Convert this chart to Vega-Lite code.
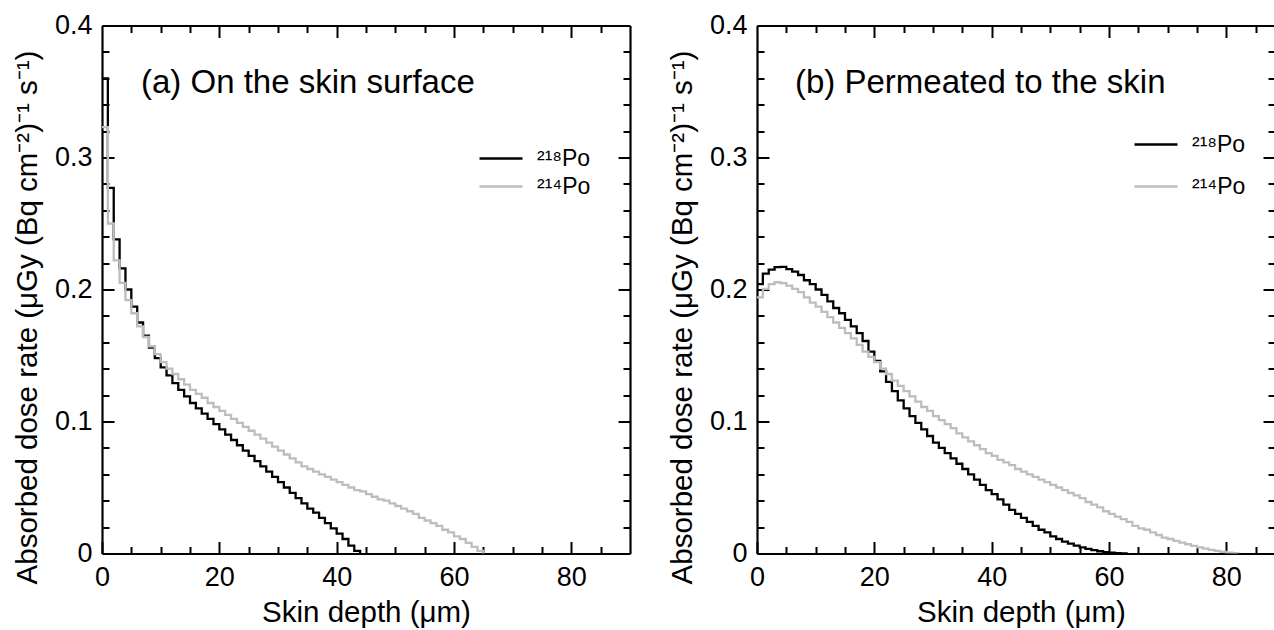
{
"$schema": "https://vega.github.io/schema/vega-lite/v6.json",
"padding": {"left": 12, "top": 11.5, "right": 0, "bottom": 0},
"spacing": 36,
"config": {
  "font": "Liberation Sans",
  "view": {"stroke": null},
  "axis": {"grid": false, "domainColor": "#000", "tickColor": "#000", "domainWidth": 2.2, "tickWidth": 2, "labelColor": "#000", "titleColor": "#000", "labelFontSize": 27, "titleFontSize": 29.5, "titleFontWeight": "normal", "labelFlush": false, "labelOverlap": false},
  "legend": {"orient": "none", "title": null, "symbolType": "stroke", "symbolSize": 1849, "symbolStrokeWidth": 2.5, "labelFontSize": 23, "labelColor": "#000", "labelOffset": 13, "padding": 0}
},
"datasets": {
 "surface": [
  {"depth":0,"rate":0.360,"nuclide":"²¹⁸Po"},{"depth":1,"rate":0.277,"nuclide":"²¹⁸Po"},{"depth":2,"rate":0.238,"nuclide":"²¹⁸Po"},{"depth":3,"rate":0.216,"nuclide":"²¹⁸Po"},{"depth":4,"rate":0.200,"nuclide":"²¹⁸Po"},{"depth":5,"rate":0.187,"nuclide":"²¹⁸Po"},{"depth":6,"rate":0.175,"nuclide":"²¹⁸Po"},{"depth":7,"rate":0.165,"nuclide":"²¹⁸Po"},{"depth":8,"rate":0.156,"nuclide":"²¹⁸Po"},{"depth":9,"rate":0.148,"nuclide":"²¹⁸Po"},{"depth":10,"rate":0.141,"nuclide":"²¹⁸Po"},{"depth":11,"rate":0.135,"nuclide":"²¹⁸Po"},{"depth":12,"rate":0.129,"nuclide":"²¹⁸Po"},{"depth":13,"rate":0.124,"nuclide":"²¹⁸Po"},{"depth":14,"rate":0.119,"nuclide":"²¹⁸Po"},{"depth":15,"rate":0.114,"nuclide":"²¹⁸Po"},{"depth":16,"rate":0.110,"nuclide":"²¹⁸Po"},{"depth":17,"rate":0.106,"nuclide":"²¹⁸Po"},{"depth":18,"rate":0.102,"nuclide":"²¹⁸Po"},{"depth":19,"rate":0.098,"nuclide":"²¹⁸Po"},{"depth":20,"rate":0.094,"nuclide":"²¹⁸Po"},{"depth":21,"rate":0.090,"nuclide":"²¹⁸Po"},{"depth":22,"rate":0.086,"nuclide":"²¹⁸Po"},{"depth":23,"rate":0.082,"nuclide":"²¹⁸Po"},{"depth":24,"rate":0.078,"nuclide":"²¹⁸Po"},{"depth":25,"rate":0.074,"nuclide":"²¹⁸Po"},{"depth":26,"rate":0.070,"nuclide":"²¹⁸Po"},{"depth":27,"rate":0.066,"nuclide":"²¹⁸Po"},{"depth":28,"rate":0.062,"nuclide":"²¹⁸Po"},{"depth":29,"rate":0.058,"nuclide":"²¹⁸Po"},{"depth":30,"rate":0.054,"nuclide":"²¹⁸Po"},{"depth":31,"rate":0.050,"nuclide":"²¹⁸Po"},{"depth":32,"rate":0.046,"nuclide":"²¹⁸Po"},{"depth":33,"rate":0.042,"nuclide":"²¹⁸Po"},{"depth":34,"rate":0.038,"nuclide":"²¹⁸Po"},{"depth":35,"rate":0.034,"nuclide":"²¹⁸Po"},{"depth":36,"rate":0.031,"nuclide":"²¹⁸Po"},{"depth":37,"rate":0.027,"nuclide":"²¹⁸Po"},{"depth":38,"rate":0.023,"nuclide":"²¹⁸Po"},{"depth":39,"rate":0.019,"nuclide":"²¹⁸Po"},{"depth":40,"rate":0.015,"nuclide":"²¹⁸Po"},{"depth":41,"rate":0.011,"nuclide":"²¹⁸Po"},{"depth":42,"rate":0.006,"nuclide":"²¹⁸Po"},{"depth":43,"rate":0.002,"nuclide":"²¹⁸Po"},{"depth":44,"rate":0.0,"nuclide":"²¹⁸Po"},
  {"depth":0,"rate":0.323,"nuclide":"²¹⁴Po"},{"depth":1,"rate":0.250,"nuclide":"²¹⁴Po"},{"depth":2,"rate":0.222,"nuclide":"²¹⁴Po"},{"depth":3,"rate":0.205,"nuclide":"²¹⁴Po"},{"depth":4,"rate":0.192,"nuclide":"²¹⁴Po"},{"depth":5,"rate":0.182,"nuclide":"²¹⁴Po"},{"depth":6,"rate":0.172,"nuclide":"²¹⁴Po"},{"depth":7,"rate":0.164,"nuclide":"²¹⁴Po"},{"depth":8,"rate":0.157,"nuclide":"²¹⁴Po"},{"depth":9,"rate":0.151,"nuclide":"²¹⁴Po"},{"depth":10,"rate":0.145,"nuclide":"²¹⁴Po"},{"depth":11,"rate":0.140,"nuclide":"²¹⁴Po"},{"depth":12,"rate":0.136,"nuclide":"²¹⁴Po"},{"depth":13,"rate":0.132,"nuclide":"²¹⁴Po"},{"depth":14,"rate":0.128,"nuclide":"²¹⁴Po"},{"depth":15,"rate":0.124,"nuclide":"²¹⁴Po"},{"depth":16,"rate":0.121,"nuclide":"²¹⁴Po"},{"depth":17,"rate":0.118,"nuclide":"²¹⁴Po"},{"depth":18,"rate":0.114,"nuclide":"²¹⁴Po"},{"depth":19,"rate":0.111,"nuclide":"²¹⁴Po"},{"depth":20,"rate":0.108,"nuclide":"²¹⁴Po"},{"depth":21,"rate":0.105,"nuclide":"²¹⁴Po"},{"depth":22,"rate":0.102,"nuclide":"²¹⁴Po"},{"depth":23,"rate":0.099,"nuclide":"²¹⁴Po"},{"depth":24,"rate":0.096,"nuclide":"²¹⁴Po"},{"depth":25,"rate":0.093,"nuclide":"²¹⁴Po"},{"depth":26,"rate":0.090,"nuclide":"²¹⁴Po"},{"depth":27,"rate":0.087,"nuclide":"²¹⁴Po"},{"depth":28,"rate":0.084,"nuclide":"²¹⁴Po"},{"depth":29,"rate":0.081,"nuclide":"²¹⁴Po"},{"depth":30,"rate":0.078,"nuclide":"²¹⁴Po"},{"depth":31,"rate":0.075,"nuclide":"²¹⁴Po"},{"depth":32,"rate":0.072,"nuclide":"²¹⁴Po"},{"depth":33,"rate":0.069,"nuclide":"²¹⁴Po"},{"depth":34,"rate":0.066,"nuclide":"²¹⁴Po"},{"depth":35,"rate":0.064,"nuclide":"²¹⁴Po"},{"depth":36,"rate":0.062,"nuclide":"²¹⁴Po"},{"depth":37,"rate":0.060,"nuclide":"²¹⁴Po"},{"depth":38,"rate":0.058,"nuclide":"²¹⁴Po"},{"depth":39,"rate":0.056,"nuclide":"²¹⁴Po"},{"depth":40,"rate":0.054,"nuclide":"²¹⁴Po"},{"depth":41,"rate":0.052,"nuclide":"²¹⁴Po"},{"depth":42,"rate":0.050,"nuclide":"²¹⁴Po"},{"depth":43,"rate":0.048,"nuclide":"²¹⁴Po"},{"depth":44,"rate":0.047,"nuclide":"²¹⁴Po"},{"depth":45,"rate":0.045,"nuclide":"²¹⁴Po"},{"depth":46,"rate":0.043,"nuclide":"²¹⁴Po"},{"depth":47,"rate":0.041,"nuclide":"²¹⁴Po"},{"depth":48,"rate":0.040,"nuclide":"²¹⁴Po"},{"depth":49,"rate":0.038,"nuclide":"²¹⁴Po"},{"depth":50,"rate":0.036,"nuclide":"²¹⁴Po"},{"depth":51,"rate":0.034,"nuclide":"²¹⁴Po"},{"depth":52,"rate":0.032,"nuclide":"²¹⁴Po"},{"depth":53,"rate":0.030,"nuclide":"²¹⁴Po"},{"depth":54,"rate":0.027,"nuclide":"²¹⁴Po"},{"depth":55,"rate":0.025,"nuclide":"²¹⁴Po"},{"depth":56,"rate":0.023,"nuclide":"²¹⁴Po"},{"depth":57,"rate":0.021,"nuclide":"²¹⁴Po"},{"depth":58,"rate":0.018,"nuclide":"²¹⁴Po"},{"depth":59,"rate":0.016,"nuclide":"²¹⁴Po"},{"depth":60,"rate":0.013,"nuclide":"²¹⁴Po"},{"depth":61,"rate":0.011,"nuclide":"²¹⁴Po"},{"depth":62,"rate":0.008,"nuclide":"²¹⁴Po"},{"depth":63,"rate":0.005,"nuclide":"²¹⁴Po"},{"depth":64,"rate":0.002,"nuclide":"²¹⁴Po"},{"depth":65,"rate":0.0,"nuclide":"²¹⁴Po"}
 ],
 "permeated": [
  {"depth":0,"rate":0.204,"nuclide":"²¹⁸Po"},{"depth":1,"rate":0.212,"nuclide":"²¹⁸Po"},{"depth":2,"rate":0.215,"nuclide":"²¹⁸Po"},{"depth":3,"rate":0.217,"nuclide":"²¹⁸Po"},{"depth":4,"rate":0.2172,"nuclide":"²¹⁸Po"},{"depth":5,"rate":0.2155,"nuclide":"²¹⁸Po"},{"depth":6,"rate":0.2135,"nuclide":"²¹⁸Po"},{"depth":7,"rate":0.211,"nuclide":"²¹⁸Po"},{"depth":8,"rate":0.207,"nuclide":"²¹⁸Po"},{"depth":9,"rate":0.204,"nuclide":"²¹⁸Po"},{"depth":10,"rate":0.200,"nuclide":"²¹⁸Po"},{"depth":11,"rate":0.196,"nuclide":"²¹⁸Po"},{"depth":12,"rate":0.191,"nuclide":"²¹⁸Po"},{"depth":13,"rate":0.186,"nuclide":"²¹⁸Po"},{"depth":14,"rate":0.182,"nuclide":"²¹⁸Po"},{"depth":15,"rate":0.177,"nuclide":"²¹⁸Po"},{"depth":16,"rate":0.172,"nuclide":"²¹⁸Po"},{"depth":17,"rate":0.167,"nuclide":"²¹⁸Po"},{"depth":18,"rate":0.161,"nuclide":"²¹⁸Po"},{"depth":19,"rate":0.153,"nuclide":"²¹⁸Po"},{"depth":20,"rate":0.146,"nuclide":"²¹⁸Po"},{"depth":21,"rate":0.138,"nuclide":"²¹⁸Po"},{"depth":22,"rate":0.130,"nuclide":"²¹⁸Po"},{"depth":23,"rate":0.123,"nuclide":"²¹⁸Po"},{"depth":24,"rate":0.116,"nuclide":"²¹⁸Po"},{"depth":25,"rate":0.110,"nuclide":"²¹⁸Po"},{"depth":26,"rate":0.104,"nuclide":"²¹⁸Po"},{"depth":27,"rate":0.099,"nuclide":"²¹⁸Po"},{"depth":28,"rate":0.094,"nuclide":"²¹⁸Po"},{"depth":29,"rate":0.089,"nuclide":"²¹⁸Po"},{"depth":30,"rate":0.084,"nuclide":"²¹⁸Po"},{"depth":31,"rate":0.080,"nuclide":"²¹⁸Po"},{"depth":32,"rate":0.076,"nuclide":"²¹⁸Po"},{"depth":33,"rate":0.072,"nuclide":"²¹⁸Po"},{"depth":34,"rate":0.068,"nuclide":"²¹⁸Po"},{"depth":35,"rate":0.064,"nuclide":"²¹⁸Po"},{"depth":36,"rate":0.060,"nuclide":"²¹⁸Po"},{"depth":37,"rate":0.056,"nuclide":"²¹⁸Po"},{"depth":38,"rate":0.052,"nuclide":"²¹⁸Po"},{"depth":39,"rate":0.048,"nuclide":"²¹⁸Po"},{"depth":40,"rate":0.045,"nuclide":"²¹⁸Po"},{"depth":41,"rate":0.041,"nuclide":"²¹⁸Po"},{"depth":42,"rate":0.037,"nuclide":"²¹⁸Po"},{"depth":43,"rate":0.033,"nuclide":"²¹⁸Po"},{"depth":44,"rate":0.030,"nuclide":"²¹⁸Po"},{"depth":45,"rate":0.027,"nuclide":"²¹⁸Po"},{"depth":46,"rate":0.024,"nuclide":"²¹⁸Po"},{"depth":47,"rate":0.021,"nuclide":"²¹⁸Po"},{"depth":48,"rate":0.018,"nuclide":"²¹⁸Po"},{"depth":49,"rate":0.016,"nuclide":"²¹⁸Po"},{"depth":50,"rate":0.013,"nuclide":"²¹⁸Po"},{"depth":51,"rate":0.011,"nuclide":"²¹⁸Po"},{"depth":52,"rate":0.009,"nuclide":"²¹⁸Po"},{"depth":53,"rate":0.0075,"nuclide":"²¹⁸Po"},{"depth":54,"rate":0.006,"nuclide":"²¹⁸Po"},{"depth":55,"rate":0.0047,"nuclide":"²¹⁸Po"},{"depth":56,"rate":0.0035,"nuclide":"²¹⁸Po"},{"depth":57,"rate":0.0025,"nuclide":"²¹⁸Po"},{"depth":58,"rate":0.0017,"nuclide":"²¹⁸Po"},{"depth":59,"rate":0.001,"nuclide":"²¹⁸Po"},{"depth":60,"rate":0.0006,"nuclide":"²¹⁸Po"},{"depth":61,"rate":0.0003,"nuclide":"²¹⁸Po"},{"depth":62,"rate":0.0001,"nuclide":"²¹⁸Po"},{"depth":63,"rate":0.0,"nuclide":"²¹⁸Po"},
  {"depth":0,"rate":0.194,"nuclide":"²¹⁴Po"},{"depth":1,"rate":0.2005,"nuclide":"²¹⁴Po"},{"depth":2,"rate":0.204,"nuclide":"²¹⁴Po"},{"depth":3,"rate":0.2055,"nuclide":"²¹⁴Po"},{"depth":4,"rate":0.2048,"nuclide":"²¹⁴Po"},{"depth":5,"rate":0.203,"nuclide":"²¹⁴Po"},{"depth":6,"rate":0.2005,"nuclide":"²¹⁴Po"},{"depth":7,"rate":0.198,"nuclide":"²¹⁴Po"},{"depth":8,"rate":0.194,"nuclide":"²¹⁴Po"},{"depth":9,"rate":0.190,"nuclide":"²¹⁴Po"},{"depth":10,"rate":0.187,"nuclide":"²¹⁴Po"},{"depth":11,"rate":0.183,"nuclide":"²¹⁴Po"},{"depth":12,"rate":0.179,"nuclide":"²¹⁴Po"},{"depth":13,"rate":0.175,"nuclide":"²¹⁴Po"},{"depth":14,"rate":0.171,"nuclide":"²¹⁴Po"},{"depth":15,"rate":0.167,"nuclide":"²¹⁴Po"},{"depth":16,"rate":0.163,"nuclide":"²¹⁴Po"},{"depth":17,"rate":0.158,"nuclide":"²¹⁴Po"},{"depth":18,"rate":0.153,"nuclide":"²¹⁴Po"},{"depth":19,"rate":0.149,"nuclide":"²¹⁴Po"},{"depth":20,"rate":0.145,"nuclide":"²¹⁴Po"},{"depth":21,"rate":0.140,"nuclide":"²¹⁴Po"},{"depth":22,"rate":0.136,"nuclide":"²¹⁴Po"},{"depth":23,"rate":0.131,"nuclide":"²¹⁴Po"},{"depth":24,"rate":0.127,"nuclide":"²¹⁴Po"},{"depth":25,"rate":0.123,"nuclide":"²¹⁴Po"},{"depth":26,"rate":0.119,"nuclide":"²¹⁴Po"},{"depth":27,"rate":0.115,"nuclide":"²¹⁴Po"},{"depth":28,"rate":0.111,"nuclide":"²¹⁴Po"},{"depth":29,"rate":0.108,"nuclide":"²¹⁴Po"},{"depth":30,"rate":0.104,"nuclide":"²¹⁴Po"},{"depth":31,"rate":0.101,"nuclide":"²¹⁴Po"},{"depth":32,"rate":0.098,"nuclide":"²¹⁴Po"},{"depth":33,"rate":0.095,"nuclide":"²¹⁴Po"},{"depth":34,"rate":0.091,"nuclide":"²¹⁴Po"},{"depth":35,"rate":0.088,"nuclide":"²¹⁴Po"},{"depth":36,"rate":0.085,"nuclide":"²¹⁴Po"},{"depth":37,"rate":0.082,"nuclide":"²¹⁴Po"},{"depth":38,"rate":0.079,"nuclide":"²¹⁴Po"},{"depth":39,"rate":0.076,"nuclide":"²¹⁴Po"},{"depth":40,"rate":0.074,"nuclide":"²¹⁴Po"},{"depth":41,"rate":0.071,"nuclide":"²¹⁴Po"},{"depth":42,"rate":0.069,"nuclide":"²¹⁴Po"},{"depth":43,"rate":0.067,"nuclide":"²¹⁴Po"},{"depth":44,"rate":0.064,"nuclide":"²¹⁴Po"},{"depth":45,"rate":0.062,"nuclide":"²¹⁴Po"},{"depth":46,"rate":0.060,"nuclide":"²¹⁴Po"},{"depth":47,"rate":0.058,"nuclide":"²¹⁴Po"},{"depth":48,"rate":0.056,"nuclide":"²¹⁴Po"},{"depth":49,"rate":0.054,"nuclide":"²¹⁴Po"},{"depth":50,"rate":0.052,"nuclide":"²¹⁴Po"},{"depth":51,"rate":0.050,"nuclide":"²¹⁴Po"},{"depth":52,"rate":0.048,"nuclide":"²¹⁴Po"},{"depth":53,"rate":0.046,"nuclide":"²¹⁴Po"},{"depth":54,"rate":0.044,"nuclide":"²¹⁴Po"},{"depth":55,"rate":0.042,"nuclide":"²¹⁴Po"},{"depth":56,"rate":0.039,"nuclide":"²¹⁴Po"},{"depth":57,"rate":0.037,"nuclide":"²¹⁴Po"},{"depth":58,"rate":0.035,"nuclide":"²¹⁴Po"},{"depth":59,"rate":0.032,"nuclide":"²¹⁴Po"},{"depth":60,"rate":0.030,"nuclide":"²¹⁴Po"},{"depth":61,"rate":0.028,"nuclide":"²¹⁴Po"},{"depth":62,"rate":0.026,"nuclide":"²¹⁴Po"},{"depth":63,"rate":0.024,"nuclide":"²¹⁴Po"},{"depth":64,"rate":0.021,"nuclide":"²¹⁴Po"},{"depth":65,"rate":0.019,"nuclide":"²¹⁴Po"},{"depth":66,"rate":0.018,"nuclide":"²¹⁴Po"},{"depth":67,"rate":0.016,"nuclide":"²¹⁴Po"},{"depth":68,"rate":0.014,"nuclide":"²¹⁴Po"},{"depth":69,"rate":0.012,"nuclide":"²¹⁴Po"},{"depth":70,"rate":0.011,"nuclide":"²¹⁴Po"},{"depth":71,"rate":0.0095,"nuclide":"²¹⁴Po"},{"depth":72,"rate":0.0082,"nuclide":"²¹⁴Po"},{"depth":73,"rate":0.007,"nuclide":"²¹⁴Po"},{"depth":74,"rate":0.0058,"nuclide":"²¹⁴Po"},{"depth":75,"rate":0.0047,"nuclide":"²¹⁴Po"},{"depth":76,"rate":0.0037,"nuclide":"²¹⁴Po"},{"depth":77,"rate":0.0028,"nuclide":"²¹⁴Po"},{"depth":78,"rate":0.002,"nuclide":"²¹⁴Po"},{"depth":79,"rate":0.0013,"nuclide":"²¹⁴Po"},{"depth":80,"rate":0.0007,"nuclide":"²¹⁴Po"},{"depth":81,"rate":0.0002,"nuclide":"²¹⁴Po"},{"depth":82,"rate":0.0,"nuclide":"²¹⁴Po"}
 ]
},
"hconcat": [
 {
  "width": 528, "height": 528,
  "data": {"name": "surface"},
  "title": {"text": "(a) On the skin surface", "frame": "group", "anchor": "start", "orient": "top", "offset": -104, "dx": 39, "fontSize": 33, "fontWeight": "normal", "baseline": "middle", "color": "#000"},
  "layer": [
   {"mark": {"type": "line", "interpolate": "step-after", "strokeWidth": 2.3},
    "encoding": {
     "x": {"field": "depth", "type": "quantitative", "scale": {"domain": [0, 90], "nice": false}, "axis": {"orient": "bottom", "values": [0, 20, 40, 60, 80], "tickSize": -12, "labelPadding": 23, "title": "Skin depth (μm)", "titlePadding": 8}},
     "y": {"field": "rate", "type": "quantitative", "scale": {"domain": [0, 0.4], "nice": false}, "axis": {"orient": "left", "values": [0, 0.1, 0.2, 0.3, 0.4], "tickSize": -12, "labelPadding": 22, "labelExpr": "datum.value == 0 ? '0' : format(datum.value, '.1f')", "title": "Absorbed dose rate (μGy (Bq cm⁻²)⁻¹ s⁻¹)", "titlePadding": 12, "titleY": 291.5}},
     "color": {"field": "nuclide", "type": "nominal", "scale": {"domain": ["²¹⁸Po", "²¹⁴Po"], "range": ["#000000", "#bdbdbd"]}, "legend": {"legendX": 376, "legendY": 119, "clipHeight": 28, "rowPadding": 0}}
    }},
   {"mark": {"type": "line", "opacity": 0},
    "encoding": {
     "x": {"field": "depth", "type": "quantitative", "axis": {"orient": "bottom", "values": [5,10,15,25,30,35,45,50,55,65,70,75,85], "tickSize": -7, "labels": false, "domain": false, "title": null}},
     "y": {"field": "rate", "type": "quantitative", "axis": {"orient": "left", "values": [0.02,0.04,0.06,0.08,0.12,0.14,0.16,0.18,0.22,0.24,0.26,0.28,0.32,0.34,0.36,0.38], "tickSize": -7, "labels": false, "domain": false, "title": null}}
    }},
   {"mark": {"type": "line", "opacity": 0},
    "encoding": {
     "x": {"field": "depth", "type": "quantitative", "axis": {"orient": "top", "values": [20, 40, 60, 80], "tickSize": -12, "labels": false, "title": null}},
     "y": {"field": "rate", "type": "quantitative", "axis": {"orient": "right", "values": [0.1, 0.2, 0.3], "tickSize": -12, "labels": false, "title": null}}
    }},
   {"mark": {"type": "line", "opacity": 0},
    "encoding": {
     "x": {"field": "depth", "type": "quantitative", "axis": {"orient": "top", "values": [5,10,15,25,30,35,45,50,55,65,70,75,85], "tickSize": -7, "labels": false, "domain": false, "title": null}},
     "y": {"field": "rate", "type": "quantitative", "axis": {"orient": "right", "values": [0.02,0.04,0.06,0.08,0.12,0.14,0.16,0.18,0.22,0.24,0.26,0.28,0.32,0.34,0.36,0.38], "tickSize": -7, "labels": false, "domain": false, "title": null}}
    }}
  ],
  "resolve": {"axis": {"x": "independent", "y": "independent"}}
 },
 {
  "width": 518, "height": 528,
  "data": {"name": "permeated"},
  "title": {"text": "(b) Permeated to the skin", "frame": "group", "anchor": "start", "orient": "top", "offset": -104, "dx": 38, "fontSize": 33, "fontWeight": "normal", "baseline": "middle", "color": "#000"},
  "layer": [
   {"mark": {"type": "line", "interpolate": "step-after", "strokeWidth": 2.3, "clip": true},
    "encoding": {
     "x": {"field": "depth", "type": "quantitative", "scale": {"domain": [0, 88.3], "nice": false}, "axis": {"orient": "bottom", "values": [0, 20, 40, 60, 80], "tickSize": -12, "labelPadding": 23, "title": "Skin depth (μm)", "titlePadding": 8, "titleX": 264}},
     "y": {"field": "rate", "type": "quantitative", "scale": {"domain": [0, 0.4], "nice": false}, "axis": {"orient": "left", "values": [0, 0.1, 0.2, 0.3, 0.4], "tickSize": -12, "labelPadding": 22, "labelExpr": "datum.value == 0 ? '0' : format(datum.value, '.1f')", "title": "Absorbed dose rate (μGy (Bq cm⁻²)⁻¹ s⁻¹)", "titlePadding": 12, "titleY": 291.5}},
     "color": {"field": "nuclide", "type": "nominal", "scale": {"domain": ["²¹⁸Po", "²¹⁴Po"], "range": ["#000000", "#bdbdbd"]}, "legend": {"legendX": 376, "legendY": 99, "clipHeight": 40, "rowPadding": 2}}
    }},
   {"mark": {"type": "line", "opacity": 0},
    "encoding": {
     "x": {"field": "depth", "type": "quantitative", "axis": {"orient": "bottom", "values": [5,10,15,25,30,35,45,50,55,65,70,75,85], "tickSize": -7, "labels": false, "domain": false, "title": null}},
     "y": {"field": "rate", "type": "quantitative", "axis": {"orient": "left", "values": [0.02,0.04,0.06,0.08,0.12,0.14,0.16,0.18,0.22,0.24,0.26,0.28,0.32,0.34,0.36,0.38], "tickSize": -7, "labels": false, "domain": false, "title": null}}
    }},
   {"mark": {"type": "line", "opacity": 0},
    "encoding": {
     "x": {"field": "depth", "type": "quantitative", "axis": {"orient": "top", "values": [20, 40, 60, 80], "tickSize": -12, "labels": false, "title": null}},
     "y": {"field": "rate", "type": "quantitative", "axis": {"orient": "right", "values": [0.1, 0.2, 0.3], "tickSize": -12, "labels": false, "domain": false, "title": null}}
    }},
   {"mark": {"type": "line", "opacity": 0},
    "encoding": {
     "x": {"field": "depth", "type": "quantitative", "axis": {"orient": "top", "values": [5,10,15,25,30,35,45,50,55,65,70,75,85], "tickSize": -7, "labels": false, "domain": false, "title": null}},
     "y": {"field": "rate", "type": "quantitative", "axis": {"orient": "right", "values": [0.02,0.04,0.06,0.08,0.12,0.14,0.16,0.18,0.22,0.24,0.26,0.28,0.32,0.34,0.36,0.38], "tickSize": -7, "labels": false, "domain": false, "title": null}}
    }}
  ],
  "resolve": {"axis": {"x": "independent", "y": "independent"}}
 }
],
"resolve": {"scale": {"color": "independent"}, "legend": {"color": "independent"}}
}
